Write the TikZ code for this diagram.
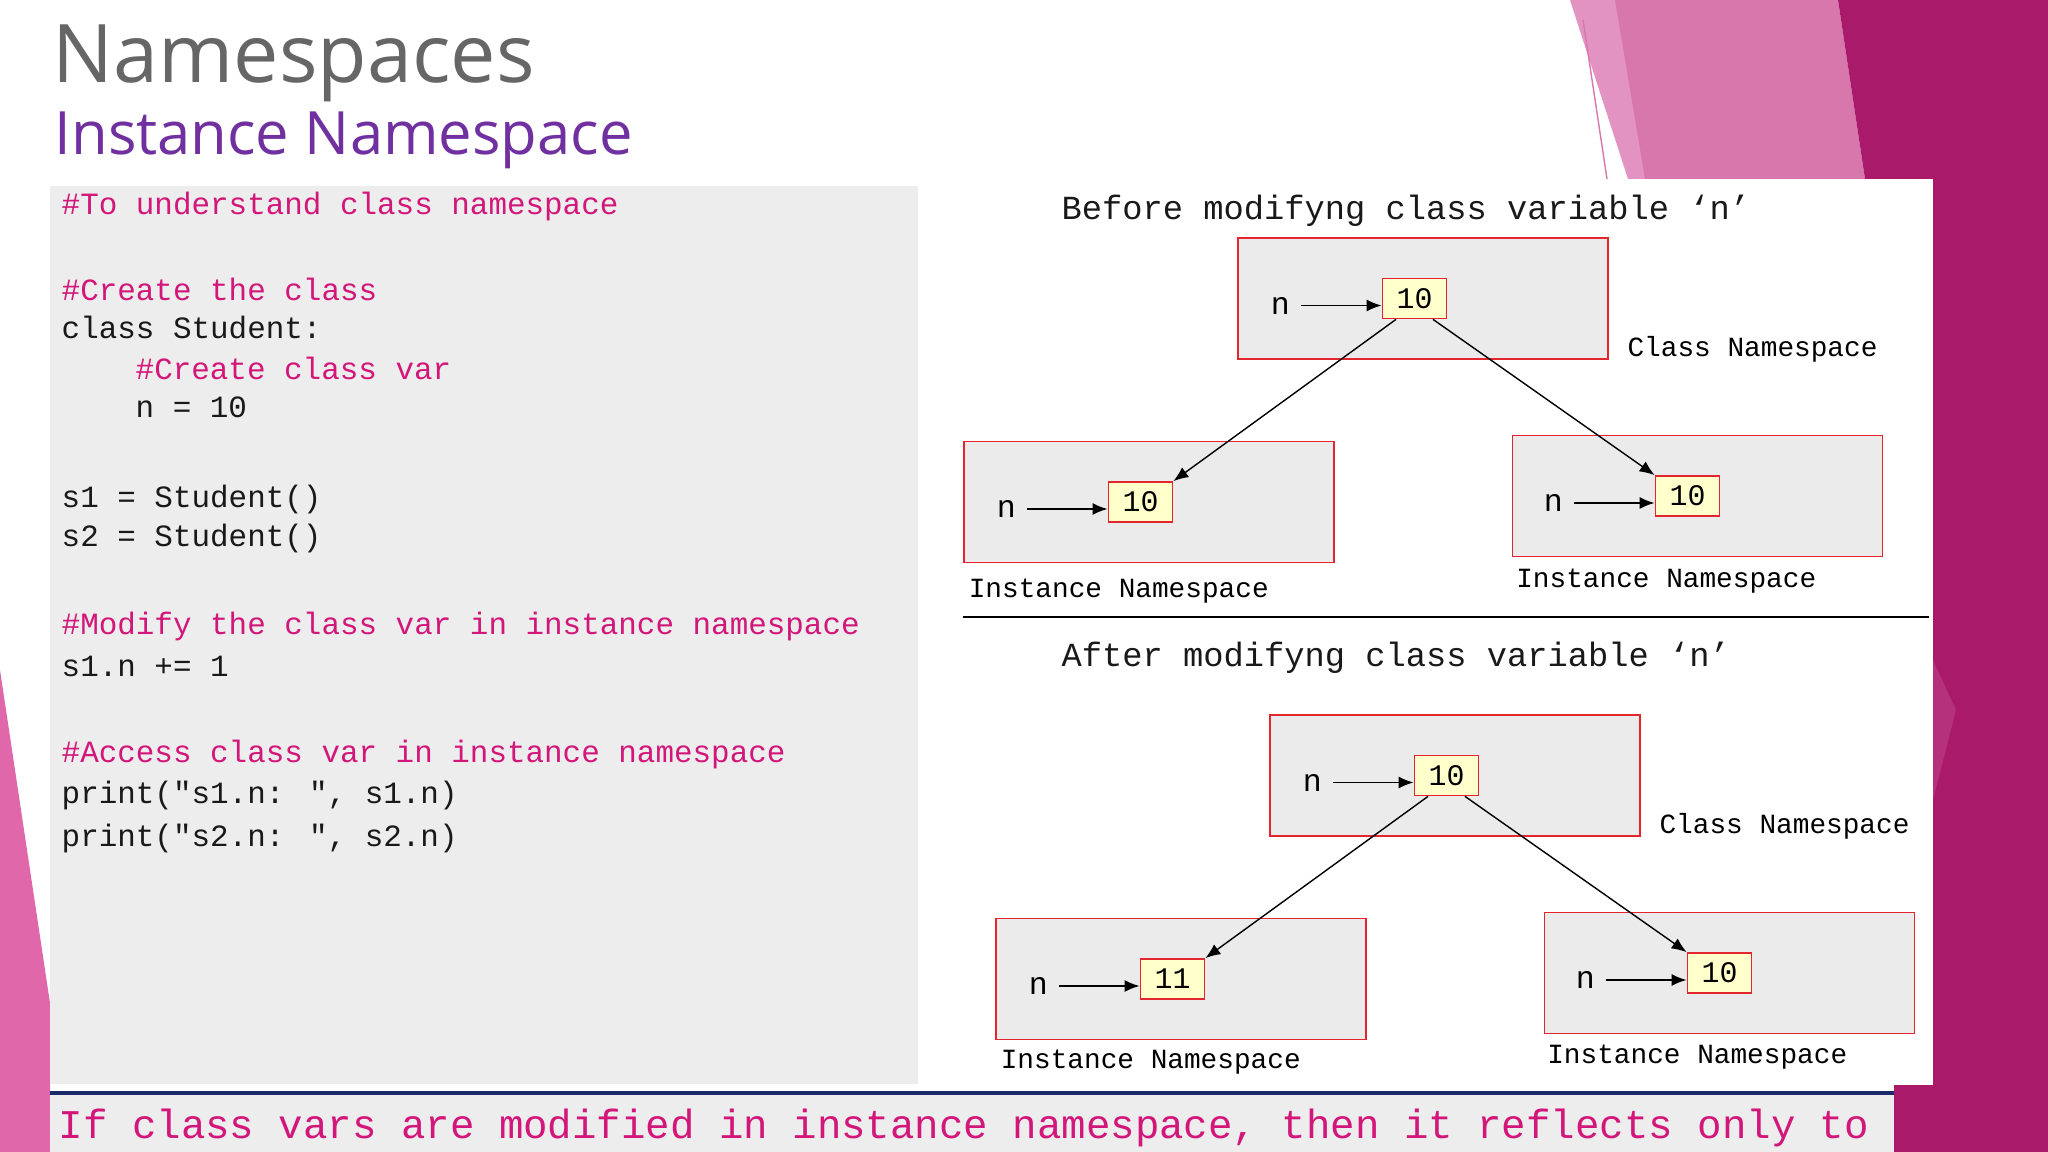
\documentclass[tikz,border=0pt]{standalone}
\usepackage{fontspec}
\setmainfont{Open Sans}
\newfontfamily\codefont{Liberation Mono}
\usetikzlibrary{positioning,arrows.meta}

\definecolor{slidegray}{HTML}{666666}
\definecolor{slidepurple}{HTML}{7030A0}
\definecolor{cmtpink}{HTML}{D2167A}
\definecolor{panelgray}{HTML}{EDEDED}
\definecolor{nsred}{HTML}{E3262E}
\definecolor{valyellow}{HTML}{FFFFCC}
\definecolor{barnavy}{HTML}{1B2A6B}
\definecolor{decodark}{HTML}{AA1A6B}
\definecolor{decopink}{HTML}{D877AB}
\definecolor{decolight}{HTML}{E393C1}
\definecolor{decoleft}{HTML}{E067AA}

\begin{document}
\begin{tikzpicture}[
    code/.style={font=\codefont\fontsize{8.8}{10}\selectfont, text=black!90, anchor=base west, inner sep=0},
    cmt/.style={code, text=cmtpink},
    heading/.style={code, font=\codefont\fontsize{9.6}{11}\selectfont},
    nsbox/.style={draw=nsred, fill=black!8, line width=0.5pt, minimum width=3.7cm, minimum height=1.21cm, inner sep=0},
    valbox/.style={draw=nsred, fill=valyellow, line width=0.5pt, minimum width=0.64cm, minimum height=0.4cm, inner sep=0, font=\codefont\fontsize{8.5}{9}\selectfont},
    varname/.style={font=\codefont\fontsize{9}{10}\selectfont, inner sep=0.1cm},
    nslabel/.style={font=\codefont\fontsize{7.9}{9}\selectfont, anchor=base west, inner sep=0},
    ptr/.style={-{Latex[length=1.5mm,width=1.2mm]}, line width=0.5pt},
  ]
  \useasboundingbox (0,0) rectangle (20.48,-11.52);
  \fill[white] (0,0) rectangle (20.48,-11.52);

  % slide decoration
  \fill[decoleft] (0,-6.70) -- (0.50,-10.03) -- (0.50,-11.52) -- (0,-11.52) -- cycle;
  \fill[decolight] (15.70,0) -- (16.20,0) -- (16.55,-1.79) -- (16.28,-1.79) -- cycle;
  \fill[decopink] (16.15,0) -- (18.38,0) -- (18.65,-1.79) -- (16.45,-1.79) -- cycle;
  \draw[decopink, thin] (15.83,-0.20) -- (16.07,-1.79);
  \fill[decodark] (18.38,0) -- (20.48,0) -- (20.48,-11.52) -- (18.94,-11.52) -- (18.94,-10.85) -- (18.65,-1.79) -- cycle;
  \fill[decodark!75!decopink] (19.33,-6.60) -- (19.56,-7.10) -- (19.33,-8.00) -- cycle;

  % panels
  \fill[white] (9.18,-1.79) rectangle (19.33,-10.85);
  \fill[panelgray] (0.50,-1.86) rectangle (9.18,-10.84);
  \fill[panelgray] (0.50,-10.93) rectangle (18.94,-11.52);
  \draw[barnavy, line width=1.2pt] (0.50,-10.93) -- (18.94,-10.93);

  \node[text=slidegray, font=\fontsize{23}{26}\selectfont, anchor=base west, inner sep=0] (title) at (0.52,-0.83) {Namespaces};
  \node[text=slidepurple, font=\fontsize{17}{20}\selectfont, anchor=base west, inner sep=0] (subtitle) at (0.54,-1.55) {Instance Namespace};

  % code
  \node[cmt] (c1) at (0.61,-2.15) {\#To understand class namespace};
  \node[cmt] (c2) at (0.61,-3.01) {\#Create the class};
  \node[code] (c3) at (0.61,-3.39) {class Student:};
  \node[cmt] (c4) at (1.35,-3.80) {\#Create class var};
  \node[code] (c5) at (1.35,-4.18) {n = 10};
  \node[code] (c6) at (0.61,-5.08) {s1 = Student()};
  \node[code] (c7) at (0.61,-5.47) {s2 = Student()};
  \node[cmt] (c8) at (0.61,-6.35) {\#Modify the class var in instance namespace};
  \node[code] (c9) at (0.61,-6.77) {s1.n += 1};
  \node[cmt] (c10) at (0.61,-7.63) {\#Access class var in instance namespace};
  \node[code] (c11) at (0.61,-8.03) {print("s1.n: ", s1.n)};
  \node[code] (c12) at (0.61,-8.47) {print("s2.n: ", s2.n)};

  \node[cmt, font=\codefont\fontsize{11.6}{13}\selectfont] (note) at (0.58,-11.38) {If class vars are modified in instance namespace, then it reflects only to};

  % before
  \node[heading] (before) at (10.61,-2.20) {Before modifyng class variable ‘n’};
  \node[nsbox] (bcls) at (14.23,-2.985) {};
  \node[valbox] (bval) at ([xshift=-0.085cm]bcls.center) {10};
  \node[varname, left=0.81cm of bval, yshift=-0.07cm] (bn) {n};
  \draw[ptr] (bn) -- (bn -| bval.west);
  \node[nslabel] (bclslbl) at ([xshift=0.18cm,yshift=0.03cm]bcls.south east) {Class Namespace};

  \node[nsbox] (bs1) at (11.49,-5.02) {};
  \node[valbox] (bv1) at ([xshift=-0.085cm]bs1.center) {10};
  \node[varname, left=0.81cm of bv1, yshift=-0.07cm] (bn1) {n};
  \draw[ptr] (bn1) -- (bn1 -| bv1.west);
  \node[nslabel] (bs1lbl) at ([xshift=0.05cm,yshift=-0.34cm]bs1.south west) {Instance Namespace};

  \node[nsbox] (bs2) at (16.975,-4.96) {};
  \node[valbox] (bv2) at ([xshift=-0.10cm]bs2.center) {10};
  \node[varname, left=0.81cm of bv2, yshift=-0.07cm] (bn2) {n};
  \draw[ptr] (bn2) -- (bn2 -| bv2.west);
  \node[nslabel] (bs2lbl) at ([xshift=0.04cm,yshift=-0.30cm]bs2.south west) {Instance Namespace};

  \draw[ptr, line width=0.4pt] ([xshift=-0.185cm]bval.south) -- (bv1.north east);
  \draw[ptr, line width=0.4pt] ([xshift=0.185cm]bval.south) -- (bv2.north west);

  \draw[line width=0.6pt] (9.63,-6.17) -- (19.29,-6.17);

  % after
  \node[heading] (after) at (10.61,-6.67) {After modifyng class variable ‘n’};
  \begin{scope}[shift={(0.32,-4.77)}]
    \node[nsbox] (acls) at (14.23,-2.985) {};
    \node[valbox] (aval) at ([xshift=-0.085cm]acls.center) {10};
    \node[varname, left=0.81cm of aval, yshift=-0.07cm] (an) {n};
    \draw[ptr] (an) -- (an -| aval.west);
    \node[nslabel] (aclslbl) at ([xshift=0.18cm,yshift=0.03cm]acls.south east) {Class Namespace};

    \node[nsbox] (as1) at (11.49,-5.02) {};
    \node[valbox] (av1) at ([xshift=-0.085cm]as1.center) {11};
    \node[varname, left=0.81cm of av1, yshift=-0.07cm] (an1) {n};
    \draw[ptr] (an1) -- (an1 -| av1.west);
    \node[nslabel] (as1lbl) at ([xshift=0.05cm,yshift=-0.28cm]as1.south west) {Instance Namespace};

    \node[nsbox] (as2) at (16.975,-4.96) {};
    \node[valbox] (av2) at ([xshift=-0.10cm]as2.center) {10};
    \node[varname, left=0.81cm of av2, yshift=-0.07cm] (an2) {n};
    \draw[ptr] (an2) -- (an2 -| av2.west);
    \node[nslabel] (as2lbl) at ([xshift=0.03cm,yshift=-0.29cm]as2.south west) {Instance Namespace};

    \draw[ptr, line width=0.4pt] ([xshift=-0.185cm]aval.south) -- (av1.north east);
    \draw[ptr, line width=0.4pt] ([xshift=0.185cm]aval.south) -- (av2.north west);
  \end{scope}
\end{tikzpicture}
\end{document}
